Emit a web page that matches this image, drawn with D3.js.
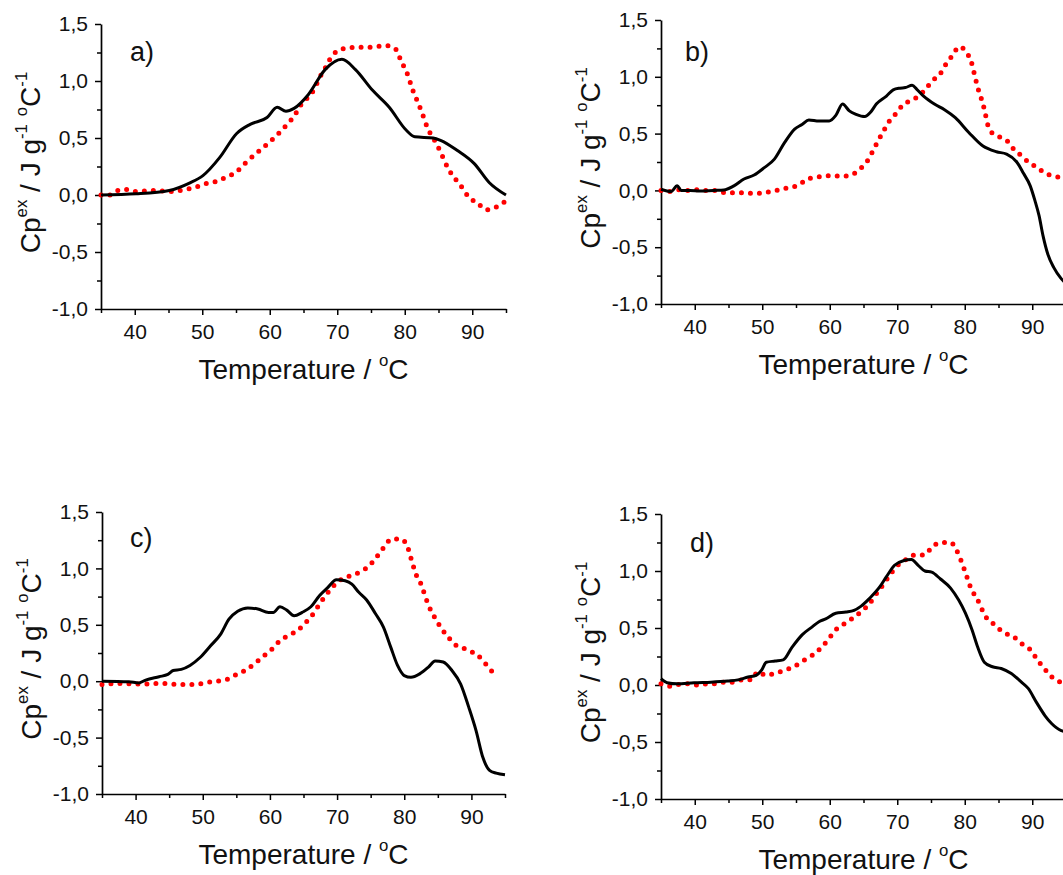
<!DOCTYPE html>
<html><head><meta charset="utf-8">
<script src="https://cdn.jsdelivr.net/npm/d3@7"></script>
<style>
body{margin:0;background:#fff}
svg{display:block}
text{font-family:"Liberation Sans",Arial,sans-serif;fill:#111;white-space:pre}
</style>
</head><body>
<svg id="chart" width="1063" height="875"></svg>
<script>
// ---- axis / labels ----
const xTicks = [40, 50, 60, 70, 80, 90];
const xMinorTicks = [35, 45, 55, 65, 75, 85, 95];
const yTicks = [-1.0, -0.5, 0.0, 0.5, 1.0, 1.5];
const yTickLabels = ["-1,0", "-0,5", "0,0", "0,5", "1,0", "1,5"];
const yMinorTicks = [-0.75, -0.25, 0.25, 0.75, 1.25];
const panelLabels = ["a)", "b)", "c)", "d)"];
const xTitle = "Temperature / ";

// ---- data: panel a ----
const aBlackT  = [35,40.2,45.1,48.1,50.1,52.6,55.1,57.1,59.6,61.1,62.4,63.6,65.7,68.2,70.7,72.7,75.2,77.7,80.2,81.5,84.2,85.3,87.8,90.3,92.5,95];
const aBlackCp = [0,0.01,0.04,0.105,0.17,0.33,0.54,0.62,0.68,0.77,0.735,0.76,0.88,1.10,1.19,1.10,0.92,0.77,0.57,0.51,0.50,0.48,0.39,0.275,0.11,0.0];
const aRedT  = [35,36.3,37.3,38.6,40,41.3,42.6,44,45.4,46.8,48.1,49.6,50.8,52.2,53.6,55,56.2,57.5,58.7,60.1,61.4,62.6,63.7,64.6,65.7,66.7,67.3,68.1,68.9,70.2,71.7,73.2,74.4,75.7,77.1,78.5,79.3,80,80.6,81,81.5,82.1,82.6,83.1,83.7,84.5,85.2,86.5,87.5,88.5,89.5,90.8,92,93.4,94.8];
const aRedCp = [0,0,0.035,0.05,0.03,0.035,0.04,0.035,0.03,0.04,0.055,0.08,0.105,0.12,0.16,0.20,0.27,0.34,0.40,0.47,0.545,0.62,0.70,0.79,0.86,0.94,1.02,1.10,1.19,1.27,1.29,1.295,1.295,1.30,1.31,1.29,1.20,1.11,1.03,0.95,0.875,0.79,0.715,0.63,0.55,0.47,0.39,0.225,0.14,0.065,-0.02,-0.07,-0.13,-0.11,-0.06];

// ---- data: panel b ----
const bBlackT  = [35,36.5,37.4,38,39.3,40.8,42.8,44.3,45.8,47.3,48.8,50.3,51.8,53.3,54.8,55.9,56.9,58.4,59.9,60.9,61.9,62.9,63.9,65.2,66,66.9,68.4,69.4,70.4,71.2,72.2,72.9,73.9,75.5,77,78.6,80.6,82.7,84.7,86.2,87.7,88.7,89.7,90.4,91,91.6,92.3,93.2,94.2,95];
const bBlackCp = [0.01,-0.01,0.04,0,0,-0.005,0,0.003,0.04,0.10,0.135,0.20,0.275,0.42,0.54,0.58,0.62,0.61,0.61,0.66,0.76,0.70,0.67,0.65,0.685,0.76,0.83,0.885,0.90,0.905,0.925,0.89,0.83,0.76,0.71,0.64,0.51,0.39,0.34,0.32,0.25,0.15,0.04,-0.09,-0.22,-0.40,-0.56,-0.68,-0.77,-0.82];
const bRedT  = [35,36.3,37.7,39,40.3,41.8,43.2,44.5,45.8,47.1,48.4,49.8,51.2,52.6,53.9,55.4,56.5,57.8,59,60.4,61.8,63.1,64.5,65.7,66.5,67.2,67.9,68.7,69.8,70.8,71.9,73.2,74.3,75.2,76.4,77.2,78.2,79.2,80.2,81,81.6,82,82.5,82.9,83.4,84,85,86.3,87.3,88.4,89.5,90.8,91.9,93,94.4,95];
const bRedCp = [0,-0.01,0.005,0,0.005,0,0,-0.02,-0.02,-0.02,-0.025,-0.025,-0.01,0.005,0.025,0.045,0.095,0.115,0.125,0.13,0.125,0.135,0.19,0.27,0.36,0.44,0.515,0.6,0.675,0.75,0.79,0.83,0.90,0.965,1.03,1.11,1.19,1.265,1.22,1.125,0.98,0.89,0.80,0.715,0.58,0.51,0.475,0.435,0.36,0.305,0.245,0.20,0.15,0.13,0.11,0.105];

// ---- data: panel c ----
const cBlackT  = [35,39,40.5,41.5,43.5,44.8,45.6,46.8,48.1,49.6,51.1,52.7,53.9,55.2,56.7,58.2,59.8,60.5,61.5,62.5,63.6,64.8,66.1,67.4,68.6,69.9,71.2,72.2,73.2,74.4,75.7,76.9,78,79,80,81,82.3,83.6,84.6,85.8,87.1,88.4,89.6,90.7,91.7,92.7,93.7,95];
const cBlackCp = [0,-0.005,-0.015,0.01,0.04,0.06,0.095,0.105,0.14,0.21,0.31,0.42,0.55,0.62,0.65,0.64,0.61,0.61,0.66,0.63,0.58,0.61,0.66,0.76,0.83,0.90,0.89,0.86,0.79,0.72,0.60,0.48,0.30,0.14,0.05,0.035,0.065,0.125,0.18,0.17,0.095,-0.025,-0.23,-0.44,-0.675,-0.79,-0.815,-0.83];
const cRedT  = [35,36,37.2,38.5,39.9,41.3,42.6,44,45.3,46.6,48,49.4,50.7,52.2,53.6,54.9,56.3,57.7,59,60.4,61.5,62.8,64.1,65.4,66.6,67.4,68.3,69.4,70.6,72.2,73.5,74.9,76,77,78.1,79.5,80.5,80.9,81.3,81.8,82.5,83,83.5,84.1,84.8,85.6,86.4,87.4,88.6,89.6,90.7,91.7,92.7,93.7];
const cRedCp = [-0.03,-0.025,-0.02,-0.02,-0.025,-0.025,-0.02,-0.02,-0.025,-0.03,-0.03,-0.025,-0.01,0,0.015,0.055,0.095,0.155,0.22,0.29,0.36,0.405,0.45,0.525,0.61,0.685,0.76,0.84,0.90,0.94,0.97,1.03,1.11,1.19,1.26,1.26,1.19,1.11,1.03,0.94,0.86,0.775,0.69,0.61,0.54,0.46,0.405,0.33,0.30,0.27,0.24,0.185,0.11,0.05];

// ---- data: panel d ----
const dBlackT  = [35,35.9,37.4,39.9,42.4,44.9,46.4,47.9,49.1,49.9,50.6,51.9,53.1,54.4,55.9,57.4,58.4,59.4,60.9,62.4,63.6,64.6,65.9,67.4,68.4,69.6,70.9,72.1,73.1,74.1,75.1,76.4,77.9,79.1,80.1,81.1,81.9,82.9,84.1,85.4,86.9,88.4,89.4,90.6,91.9,92.9,94.3,95];
const dBlackCp = [0.055,0.02,0.01,0.02,0.025,0.035,0.045,0.07,0.085,0.13,0.20,0.21,0.22,0.33,0.44,0.51,0.555,0.58,0.63,0.64,0.655,0.69,0.76,0.86,0.95,1.05,1.09,1.10,1.05,1.0,0.99,0.93,0.85,0.745,0.63,0.48,0.335,0.20,0.16,0.145,0.10,0.025,-0.03,-0.15,-0.27,-0.34,-0.40,-0.41];
const dRedT  = [35,36.3,37.6,38.9,40.4,41.7,43.1,44.4,45.8,47.1,48.5,49.3,50.6,51.9,53.4,54.8,56.1,57.4,58.6,59.8,60.8,62.1,63.5,64.8,65.9,66.9,67.9,68.9,69.9,71.3,72.6,74,75.3,76.6,77.9,78.8,79.4,80.4,80.9,81.8,83.1,84.5,85.8,87.1,88.5,89.8,90.8,91.8,92.9,94.1,95];
const dRedCp = [0.01,-0.01,0.005,0.01,0,0.01,0.01,0.025,0.025,0.045,0.045,0.115,0.085,0.105,0.13,0.165,0.215,0.26,0.32,0.40,0.48,0.535,0.59,0.65,0.715,0.80,0.88,0.965,1.04,1.10,1.14,1.14,1.22,1.25,1.25,1.18,1.10,0.935,0.85,0.76,0.60,0.525,0.457,0.43,0.36,0.305,0.217,0.144,0.07,0.026,0.01];

const panels = [
  {black:[aBlackT,aBlackCp], red:[aRedT,aRedCp]},
  {black:[bBlackT,bBlackCp], red:[bRedT,bRedCp]},
  {black:[cBlackT,cBlackCp], red:[cRedT,cRedCp]},
  {black:[dBlackT,dBlackCp], red:[dRedT,dRedCp]}
];

// ---- layout (positions only) ----
const layout = [
  {left:101, top:24,  width:405, height:285, lx:29, ly:37},
  {left:661, top:20,  width:405, height:284, lx:24, ly:41},
  {left:102, top:512, width:403, height:282, lx:28, ly:35},
  {left:661, top:514, width:405, height:285, lx:29, ly:38}
];

const svg = d3.select("#chart");
const FS_TICK = 21, FS_TITLE = 28, FS_LETTER = 27;

function rich(sel, parts, fs) {
  let cur = 0;
  parts.forEach(p => {
    const target = p.sup ? -0.45 * fs : 0;
    sel.append("tspan")
      .attr("dy", target - cur)
      .attr("font-size", p.sup ? fs * 0.6 : fs)
      .text(p.t);
    cur = target;
  });
}

panels.forEach((p, i) => {
  const L = layout[i];
  const x = d3.scaleLinear().domain([35, 95]).range([L.left, L.left + L.width]);
  const y = d3.scaleLinear().domain([-1, 1.5]).range([L.top + L.height, L.top]);
  const g = svg.append("g");

  // minor ticks
  g.append("g").attr("transform", `translate(0,${L.top + L.height})`)
    .call(d3.axisBottom(x).tickValues(xMinorTicks).tickSize(4).tickSizeOuter(0).tickFormat(""))
    .call(s => s.select(".domain").remove());
  g.append("g").attr("transform", `translate(${L.left},0)`)
    .call(d3.axisLeft(y).tickValues(yMinorTicks).tickSize(4).tickSizeOuter(0).tickFormat(""))
    .call(s => s.select(".domain").remove());

  // major axes
  const xa = g.append("g").attr("transform", `translate(0,${L.top + L.height})`)
    .call(d3.axisBottom(x).tickValues(xTicks).tickSize(6).tickSizeOuter(0).tickPadding(9).tickFormat(d3.format("d")));
  const ya = g.append("g").attr("transform", `translate(${L.left},0)`)
    .call(d3.axisLeft(y).tickValues(yTicks).tickSize(6).tickSizeOuter(0).tickPadding(7).tickFormat((d, k) => yTickLabels[k]));
  [xa, ya].forEach(a => {
    a.attr("font-family", null).attr("font-size", null);
    a.selectAll("text").attr("font-size", FS_TICK).style("fill", "#111");
  });
  g.selectAll(".domain").attr("stroke", "#000").attr("stroke-width", 1.7);
  g.selectAll(".tick line").attr("stroke", "#000").attr("stroke-width", 1.5);

  // x title
  const xt = g.append("text").attr("x", L.left + L.width / 2).attr("y", L.top + L.height + 70)
    .attr("text-anchor", "middle");
  rich(xt, [{t: xTitle}, {t: "o", sup: true}, {t: "C"}], FS_TITLE);

  // y title
  const yt = g.append("text")
    .attr("transform", `translate(${L.left - 61},${L.top + L.height / 2 - 4}) rotate(-90)`)
    .attr("text-anchor", "middle");
  rich(yt, [{t: "Cp"}, {t: "ex", sup: true}, {t: " / J g"}, {t: "-1", sup: true}, {t: " "}, {t: "o", sup: true}, {t: "C"}, {t: "-1", sup: true}], FS_TITLE);

  // panel letter
  g.append("text").attr("x", L.left + L.lx).attr("y", L.top + L.ly)
    .attr("font-size", FS_LETTER).text(panelLabels[i]);

  // curves
  const line = d3.line().x(d => x(d[0])).y(d => y(d[1])).curve(d3.curveMonotoneX);
  const red = p.red[0].map((t, k) => [t, p.red[1][k]]);
  const black = p.black[0].map((t, k) => [t, p.black[1][k]]);
  g.append("path").datum(red).attr("d", line).attr("fill", "none")
    .attr("stroke", "#ff0000").attr("stroke-width", 5).attr("stroke-linecap", "round")
    .attr("stroke-dasharray", "0 9");
  g.append("path").datum(black).attr("d", line).attr("fill", "none")
    .attr("stroke", "#000").attr("stroke-width", 3).attr("stroke-linejoin", "round");
});
</script>
</body></html>
